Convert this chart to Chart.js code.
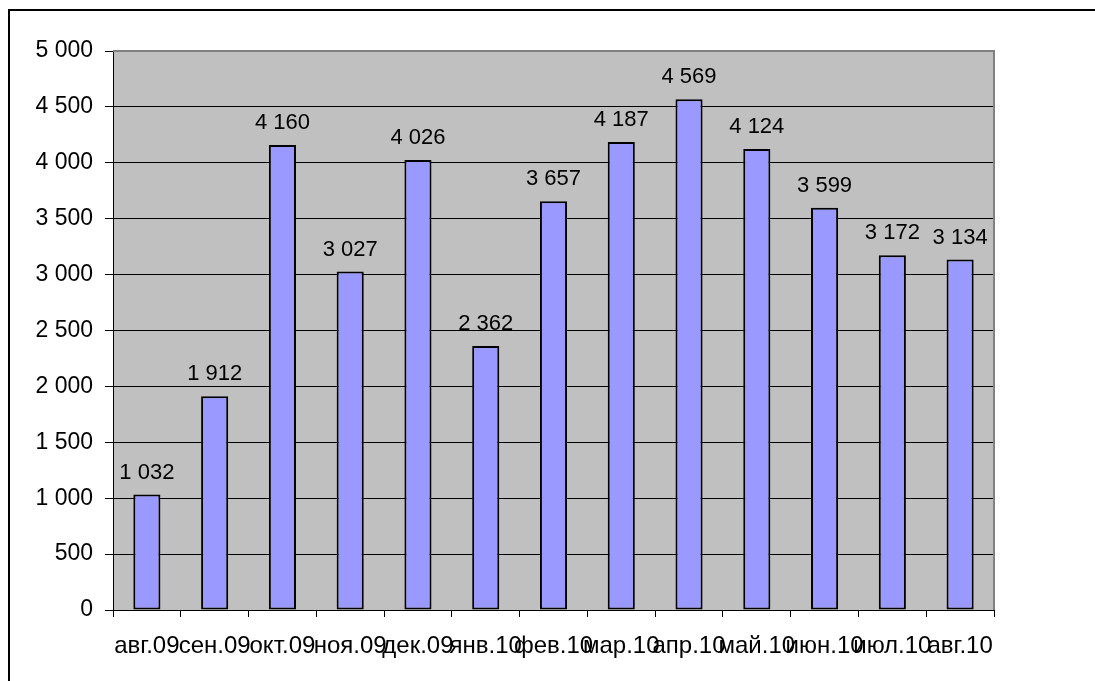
<!DOCTYPE html>
<html>
<head>
<meta charset="utf-8">
<script src="https://cdn.jsdelivr.net/npm/chart.js@4"></script>
<style>
  html, body { margin: 0; padding: 0; background: #fff; overflow: hidden; }
  #wrap { position: relative; width: 1095px; height: 681px; }
  #frame { position: absolute; left: 8px; top: 9px; width: 1200px; height: 800px; border: 2px solid #000; box-sizing: border-box; }
  #c { position: absolute; left: 0; top: 0; }
</style>
</head>
<body>
<div id="wrap">
  <div id="frame"></div>
  <canvas id="c" width="1095" height="681"></canvas>
</div>
<script>
const months = ['авг.09', 'сен.09', 'окт.09', 'ноя.09', 'дек.09', 'янв.10', 'фев.10', 'мар.10', 'апр.10', 'май.10', 'июн.10', 'июл.10', 'авг.10'];
const counts = [1032, 1912, 4160, 3027, 4026, 2362, 3657, 4187, 4569, 4124, 3599, 3172, 3134];
const yMin = 0;
const yMax = 5000;
const yStep = 500;

const FONT = '"Liberation Sans", Arial, sans-serif';

// group thousands with a space: 4569 -> "4 569"
function fmt(v) {
  return String(Math.round(v)).replace(/\B(?=(\d{3})+(?!\d))/g, ' ');
}

// grey plot background and its right/top border
const plotArea = {
  id: 'plotArea',
  beforeDraw(chart) {
    const { ctx, chartArea: a } = chart;
    ctx.save();
    ctx.fillStyle = '#C0C0C0';
    ctx.fillRect(a.left, a.top, a.right - a.left, a.bottom - a.top);
    ctx.restore();
  },
  beforeDatasetsDraw(chart) {
    const { ctx, chartArea: a } = chart;
    ctx.save();
    ctx.strokeStyle = '#808080';
    ctx.lineWidth = 2;
    ctx.beginPath();
    ctx.moveTo(a.left, a.top);
    ctx.lineTo(a.right, a.top);
    ctx.lineTo(a.right, a.bottom);
    ctx.stroke();
    ctx.restore();
  }
};

// value labels above each bar
const valueLabels = {
  id: 'valueLabels',
  afterDatasetsDraw(chart) {
    const { ctx } = chart;
    const meta = chart.getDatasetMeta(0);
    ctx.save();
    ctx.font = '22px ' + FONT;
    ctx.fillStyle = '#000';
    ctx.textAlign = 'center';
    ctx.textBaseline = 'alphabetic';
    meta.data.forEach((bar, i) => {
      ctx.fillText(fmt(counts[i]), bar.x, bar.y - 16);
    });
    ctx.restore();
  }
};

new Chart(document.getElementById('c'), {
  type: 'bar',
  data: {
    labels: months,
    datasets: [{
      data: counts,
      backgroundColor: '#9999FF',
      borderColor: '#000000',
      borderWidth: 2,
      borderSkipped: false,
      barPercentage: 0.4,
      categoryPercentage: 1.0
    }]
  },
  options: {
    responsive: false,
    animation: false,
    devicePixelRatio: 1,
    layout: { padding: { left: 0, top: 51, right: 101, bottom: 0 } },
    plugins: { legend: { display: false }, tooltip: { enabled: false } },
    scales: {
      x: {
        afterFit(s) { s.height = 71; },
        grid: {
          offset: true,
          drawOnChartArea: false,
          drawTicks: true,
          tickLength: 7,
          color: '#000',
          tickColor: '#000'
        },
        border: { display: true, color: '#000', width: 1 },
        ticks: {
          autoSkip: false,
          maxRotation: 0,
          minRotation: 0,
          padding: 15,
          color: '#000',
          font: { family: FONT, size: 24 }
        }
      },
      y: {
        min: yMin,
        max: yMax,
        afterFit(s) { s.width = 113; },
        grid: {
          color: (c) => (c.tick && c.tick.value === yMax) ? 'rgba(0,0,0,0)' : '#000',
          tickColor: '#000',
          tickLength: 8,
          lineWidth: 1
        },
        border: { display: true, color: '#000', width: 1 },
        ticks: {
          stepSize: yStep,
          padding: 12,
          color: '#000',
          font: { family: FONT, size: 23 },
          callback: (v) => fmt(v)
        }
      }
    }
  },
  plugins: [plotArea, valueLabels]
});
</script>
</body>
</html>
